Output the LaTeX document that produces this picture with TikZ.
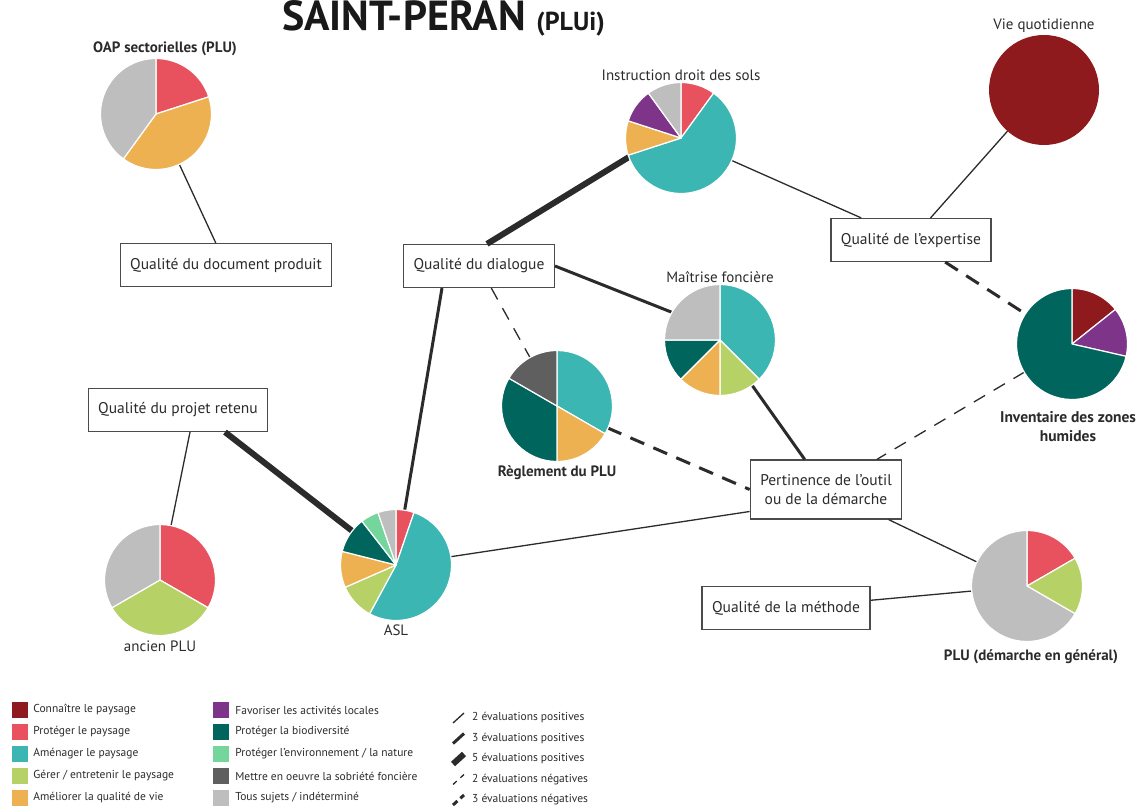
\documentclass[tikz,border=0pt]{standalone}
\usepackage{fontspec}
\setmainfont{PT Sans}
\usetikzlibrary{positioning}
\definecolor{spconn}{HTML}{8F1A1E}
\definecolor{spprot}{HTML}{E8525F}
\definecolor{spamen}{HTML}{3BB6B2}
\definecolor{spgerer}{HTML}{B6D166}
\definecolor{spamel}{HTML}{EDB151}
\definecolor{spfavo}{HTML}{7E3489}
\definecolor{spbiod}{HTML}{00655C}
\definecolor{spenvi}{HTML}{74D69D}
\definecolor{spsobr}{HTML}{5F5F5F}
\definecolor{sptous}{HTML}{BEBEBE}
\definecolor{spdark}{HTML}{2B2B2B}
\tikzset{
  qbox/.style={draw=spdark!85,line width=1.2pt,fill=white,inner xsep=10pt,minimum height=43pt,font=\fontsize{15.5}{19}\selectfont,text=spdark,align=center},
  pienode/.style={circle,minimum size=110pt,inner sep=0pt,outer sep=0pt},
  plab/.style={font=\fontsize{15}{20}\selectfont,text=spdark,inner sep=1pt,align=center},
  plabb/.style={plab,font=\fontsize{15}{20}\selectfont\bfseries},
  ev2/.style={draw=spdark,line width=1.3pt},
  ev3/.style={draw=spdark,line width=3pt},
  ev5/.style={draw=spdark,line width=6pt},
  evn2/.style={ev2,dash pattern=on 13pt off 10pt},
  evn3/.style={ev3,dash pattern=on 15pt off 10pt},
  legn2/.style={ev2,dash pattern=on 5pt off 5pt},
  legn3/.style={ev3,dash pattern=on 6pt off 4pt},
  slice/.style={draw=white,line width=1.2pt,line join=round},
  legsq/.style={minimum size=16pt,inner sep=0pt},
  legtxt/.style={font=\fontsize{11.5}{13}\selectfont,text=spdark,inner sep=0pt},
}
% pie: node name, slices as start/end/colour (angles clockwise from the top)
\newcommand{\drawpie}[2]{%
  \foreach \a/\b/\c in {#2}
    \filldraw[fill=\c,slice] (#1.center) -- ++(\a:55.5) arc[start angle=\a,end angle=\b,radius=55.5] -- cycle;
}

\begin{document}
\begin{tikzpicture}[x=1pt,y=-1pt]
  \useasboundingbox (0,0) rectangle (1143,810);

  % title
  \node[anchor=base west,inner sep=0pt,text=black!90,font=\fontsize{42}{44}\selectfont\bfseries] (title) at (282,30.5)
    {SAINT-PERAN {\fontsize{26}{28}\selectfont(PLUi)}};

  % pies
  \node[pienode] (oap) at (156,114) {};
  \node[pienode] (instr) at (681,138) {};
  \node[pienode] (vie) at (1044,90) {};
  \node[pienode] (maitrise) at (720,340) {};
  \node[pienode] (regl) at (557,406) {};
  \node[pienode] (asl) at (396,565) {};
  \node[pienode] (ancien) at (160,580) {};
  \node[pienode] (inv) at (1072,344) {};
  \node[pienode] (plu) at (1027,586) {};

  \node[plabb,above=2pt of oap,xshift=9pt] (oaplab) {OAP sectorielles (PLU)};
  \node[plab,above=1pt of instr] (instrlab) {Instruction droit des sols};
  \node[plab,above=1pt of vie] (vielab) {Vie quotidienne};
  \node[plab,above=1pt of maitrise] (maitriselab) {Maîtrise foncière};
  \node[plabb,below=3pt of regl] (regllab) {Règlement du PLU};
  \node[plab,below=4pt of asl] (asllab) {ASL};
  \node[plab,below=5pt of ancien] (ancienlab) {ancien PLU};
  \node[plabb,below=11pt of inv,xshift=-4pt,font=\fontsize{15.5}{19}\selectfont\bfseries] (invlab) {Inventaire des zones\\humides};
  \node[plabb,below=7pt of plu,xshift=4pt] (plulab) {PLU (démarche en général)};

  % boxes
  \node[qbox] (qdoc) at (226,265) {Qualité du document produit};
  \node[qbox] (qdial) at (479,266) {Qualité du dialogue};
  \node[qbox] (qexp) at (911,240) {Qualité de l’expertise};
  \node[qbox] (qproj) at (178,410) {Qualité du projet retenu};
  \node[qbox,minimum height=59pt] (pert) at (826,489.5) {Pertinence de l’outil\\ou de la démarche};
  \node[qbox] (qmeth) at (786,608) {Qualité de la méthode};

  % links
  \draw[ev2] (oap) -- (qdoc);
  \draw[ev5] (instr.200) -- ([xshift=8pt]qdial.north);
  \draw[ev2] (instr) -- (qexp);
  \draw[ev2] (vie) -- (qexp);
  \draw[evn3] (qexp) -- (inv);
  \draw[ev3] (qdial.east) -- (maitrise.150);
  \draw[evn2] (qdial) -- (regl);
  \draw[ev3] ([xshift=-37pt]qdial.south) -- (asl.81);
  \draw[ev3] (maitrise) -- (pert);
  \draw[evn3] (regl) -- (pert.west);
  \draw[evn2] (inv) -- (pert);
  \draw[ev5] ([xshift=47pt]qproj.south) -- (asl);
  \draw[ev2] ([xshift=12pt]qproj.south) -- (ancien);
  \draw[ev2] (asl) -- ([yshift=-22pt]pert.west);
  \draw[ev2] (pert) -- (plu);
  \draw[ev2] (qmeth) -- (plu);

  % slices
  \drawpie{oap}{-90/-18/spprot, -18/126/spamel, 126/270/sptous}
  \drawpie{instr}{-90/-54/spprot, -54/162/spamen, 162/198/spamel, 198/234/spfavo, 234/270/sptous}
  \fill[spconn] (vie.center) circle[radius=55];
  \drawpie{maitrise}{-90/45/spamen, 45/90/spgerer, 90/135/spamel, 135/180/spbiod, 180/270/sptous}
  \drawpie{regl}{-90/30/spamen, 30/90/spamel, 90/210/spbiod, 210/270/spsobr}
  \drawpie{asl}{-90/-71.05/spprot, -71.05/118.42/spamen, 118.42/156.32/spgerer, 156.32/194.21/spamel,
    194.21/232.11/spbiod, 232.11/251.05/spenvi, 251.05/270/sptous}
  \drawpie{ancien}{-90/30/spprot, 30/150/spgerer, 150/270/sptous}
  \drawpie{inv}{-90/-38.57/spconn, -38.57/12.86/spfavo, 12.86/270/spbiod}
  \drawpie{plu}{-90/-30/spprot, -30/30/spgerer, 30/270/sptous}

  % legend
  \foreach \c/\t [count=\i] in {spconn/Connaître le paysage, spprot/Protéger le paysage,
      spamen/Aménager le paysage, spgerer/{Gérer / entretenir le paysage}, spamel/Améliorer la qualité de vie} {
    \node[legsq,fill=\c] (lega\i) at (20,688+22*\i) {};
    \node[legtxt,right=5pt of lega\i] (legta\i) {\t};
  }
  \foreach \c/\t [count=\i] in {spfavo/Favoriser les activités locales, spbiod/Protéger la biodiversité,
      spenvi/{Protéger l’environnement / la nature}, spsobr/Mettre en oeuvre la sobriété foncière, sptous/{Tous sujets / indéterminé}} {
    \node[legsq,fill=\c] (legb\i) at (221,688+22*\i) {};
    \node[legtxt,right=6pt of legb\i] (legtb\i) {\t};
  }
  \foreach \s/\t [count=\i] in {ev2/2 évaluations positives, ev3/3 évaluations positives, ev5/5 évaluations positives,
      legn2/2 évaluations négatives, legn3/3 évaluations négatives} {
    \coordinate (lk\i) at (459,697.5+20.5*\i);
    \draw[\s] ([xshift=-6pt,yshift=-5pt]lk\i) -- ([xshift=5pt,yshift=5pt]lk\i);
    \node[legtxt,anchor=west] (legtc\i) at (472,697.5+20.5*\i) {\t};
  }
\end{tikzpicture}
\end{document}
